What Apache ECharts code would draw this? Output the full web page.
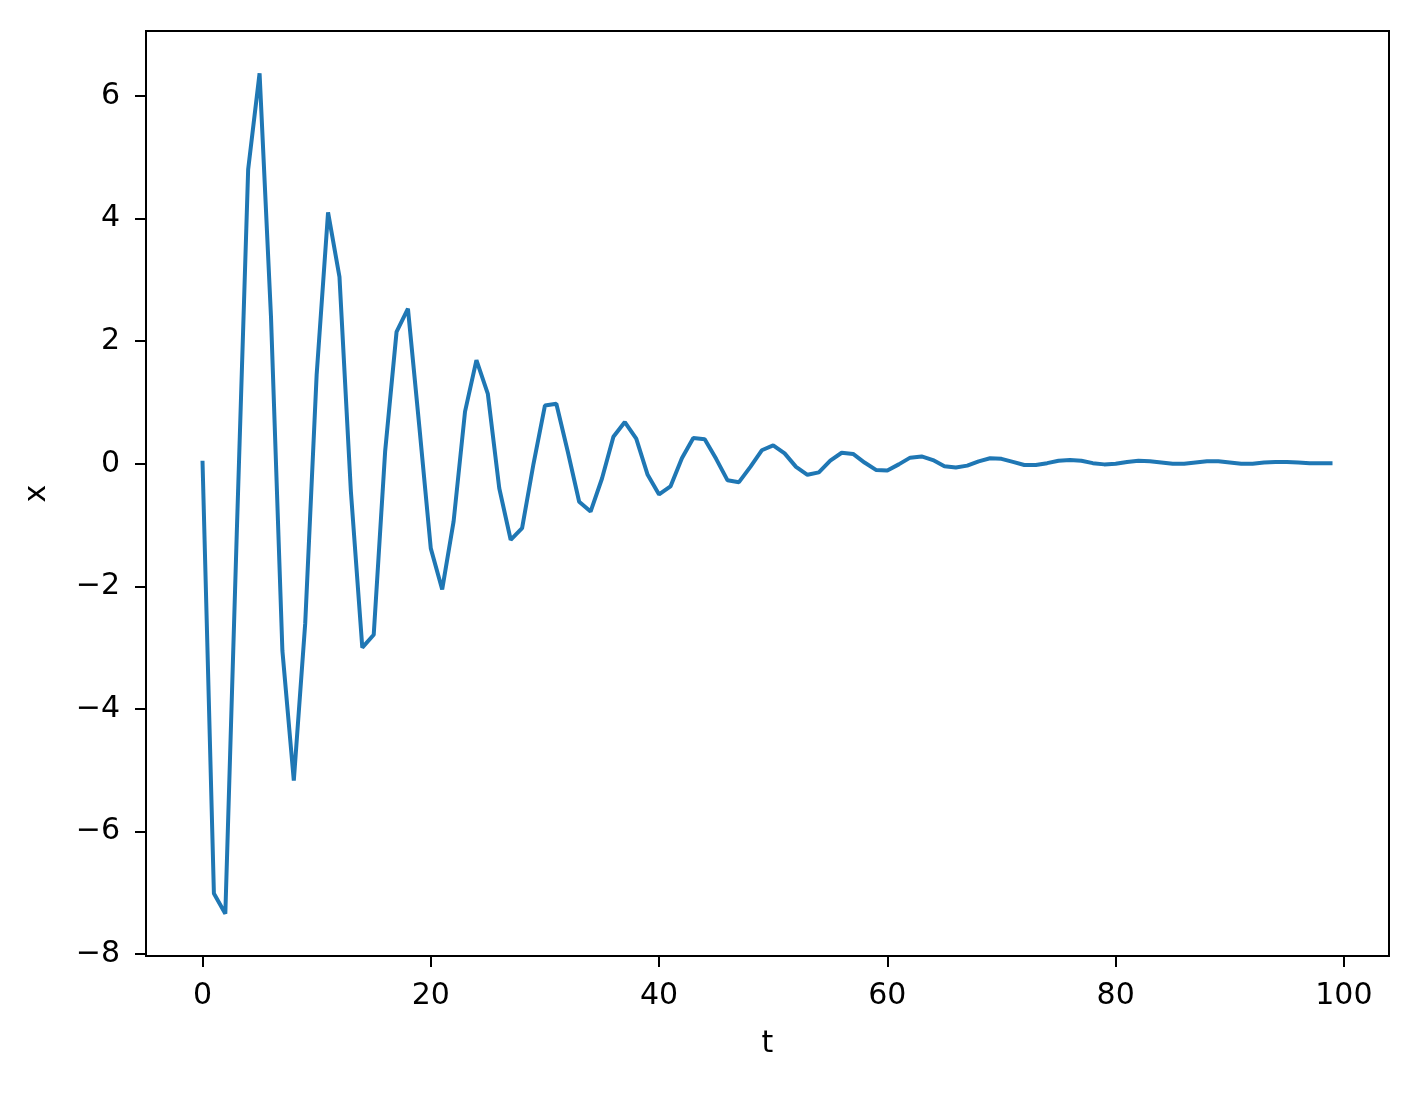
<!DOCTYPE html>
<html>
<head>
<meta charset="utf-8">
<script src="https://cdn.jsdelivr.net/npm/echarts@6/dist/echarts.min.js"></script>
<style>
  html, body { margin: 0; padding: 0; background: #fff; }
  #chart { width: 1419px; height: 1109px; }
</style>
</head>
<body>
<div id="chart"></div>
<script>
// Time samples
const tValues = [
  0, 1, 2, 3, 4, 5, 6, 7, 8, 9,
  10, 11, 12, 13, 14, 15, 16, 17, 18, 19,
  20, 21, 22, 23, 24, 25, 26, 27, 28, 29,
  30, 31, 32, 33, 34, 35, 36, 37, 38, 39,
  40, 41, 42, 43, 44, 45, 46, 47, 48, 49,
  50, 51, 52, 53, 54, 55, 56, 57, 58, 59,
  60, 61, 62, 63, 64, 65, 66, 67, 68, 69,
  70, 71, 72, 73, 74, 75, 76, 77, 78, 79,
  80, 81, 82, 83, 84, 85, 86, 87, 88, 89,
  90, 91, 92, 93, 94, 95, 96, 97, 98, 99
];
// Signal x(t)
const xValues = [
  0.05, -7.01, -7.34, -1.15, 4.80, 6.37, 2.40, -3.05, -5.17, -2.60,
  1.45, 4.10, 3.05, -0.45, -3.00, -2.79, 0.20, 2.15, 2.53, 0.60,
  -1.38, -2.05, -0.94, 0.85, 1.69, 1.14, -0.40, -1.24, -1.05, 0.00,
  0.95, 0.98, 0.20, -0.62, -0.78, -0.24, 0.44, 0.68, 0.41, -0.18,
  -0.50, -0.37, 0.09, 0.42, 0.40, 0.08, -0.27, -0.30, -0.05, 0.22,
  0.30, 0.17, -0.05, -0.18, -0.14, 0.05, 0.18, 0.16, 0.02, -0.10,
  -0.11, -0.01, 0.10, 0.12, 0.06, -0.04, -0.06, -0.03, 0.04, 0.09,
  0.08, 0.03, -0.02, -0.02, 0.01, 0.05, 0.06, 0.05, 0.01, -0.01,
  0.00, 0.03, 0.05, 0.04, 0.02, 0.00, 0.00, 0.02, 0.04, 0.04,
  0.02, 0.00, 0.00, 0.02, 0.03, 0.03, 0.02, 0.01, 0.01, 0.01
];
// Tick labels
const xTicks = [0, 20, 40, 60, 80, 100];
const yTicks = [-8, -6, -4, -2, 0, 2, 4, 6];
const xAxisName = 't';
const yAxisName = 'x';

const FONT = 'DejaVu Sans';
const fmt = v => String(v).replace('-', '\u2212');

const data = tValues.map((t, i) => [t, xValues[i]]);

const chart = echarts.init(document.getElementById('chart'), null, { renderer: 'canvas' });
chart.setOption({
  animation: false,
  backgroundColor: '#ffffff',
  grid: {
    left: 146, top: 31, width: 1243, height: 925,
    show: true, borderColor: '#000', borderWidth: 2, backgroundColor: 'transparent'
  },
  xAxis: {
    type: 'value',
    min: -4.95, max: 103.95,
    name: xAxisName,
    nameLocation: 'middle',
    nameGap: 73,
    nameTextStyle: { fontFamily: FONT, fontSize: 30, color: '#000' },
    axisLine: { show: true, onZero: false, lineStyle: { color: '#000', width: 2 } },
    axisTick: { show: true, inside: false, length: 11, customValues: xTicks, lineStyle: { color: '#000', width: 2 } },
    axisLabel: { customValues: xTicks, formatter: fmt, fontFamily: FONT, fontSize: 30, color: '#000', margin: 25 },
    splitLine: { show: false }
  },
  yAxis: {
    type: 'value',
    min: -8.03, max: 7.06,
    name: yAxisName,
    nameLocation: 'middle',
    nameGap: 94,
    nameRotate: 90,
    nameTextStyle: { fontFamily: FONT, fontSize: 30, color: '#000' },
    axisLine: { show: true, onZero: false, lineStyle: { color: '#000', width: 2 } },
    axisTick: { show: true, inside: false, length: 11, customValues: yTicks, lineStyle: { color: '#000', width: 2 } },
    axisLabel: { customValues: yTicks, formatter: fmt, fontFamily: FONT, fontSize: 30, color: '#000', margin: 26 },
    splitLine: { show: false }
  },
  series: [{
    type: 'line',
    data: data,
    showSymbol: false,
    symbol: 'none',
    smooth: false,
    lineStyle: { color: '#1f77b4', width: 4 },
    z: 3
  }]
});
</script>
</body>
</html>
